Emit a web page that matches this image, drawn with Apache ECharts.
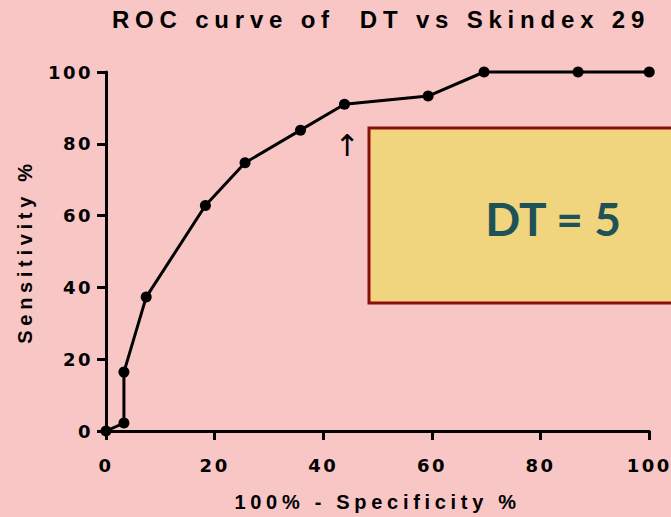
<!DOCTYPE html>
<html><head><meta charset="utf-8">
<script src="https://cdn.jsdelivr.net/npm/echarts@6/dist/echarts.min.js"></script>
<style>
html,body{margin:0;padding:0;background:#F9C6C6;}
#c{width:671px;height:517px;}
#c text[style*="24px"]{letter-spacing:5.8px;}
#c text[style*="20px"]{letter-spacing:4.7px;}
#c text[style*="18px"]{letter-spacing:2.5px;}
</style>
</head><body>
<div id="c"></div>
<script>
var titleText = 'ROC curve of  DT vs Skindex 29';
var xName = '100% - Specificity %';
var yName = 'Sensitivity %';
var specificity = [0, 3.3, 3.3, 7.4, 18.3, 25.6, 35.8, 43.9, 59.3, 69.6, 86.9, 100];
var sensitivity = [0, 2.2, 16.4, 37.3, 62.8, 74.7, 83.8, 91.0, 93.3, 100, 100, 100];
var boxLabel = 'DT = 5';
var arrowLabel = '\u2191';

var chart = echarts.init(document.getElementById('c'), null, {renderer:'svg'});
var pts = specificity.map(function(v,i){return [v, sensitivity[i]];});
var font = '"Liberation Sans", Arial, sans-serif';
var tickFont = '"DejaVu Sans", sans-serif';
chart.setOption({
  backgroundColor:'#F9C6C6',
  animation:false,
  grid:{left:106,right:19,top:72,bottom:84},
  xAxis:{type:'value',min:0,max:100,interval:20,
    name:xName,nameLocation:'middle',nameGap:61,
    nameTextStyle:{fontFamily:font,fontSize:20,fontWeight:'bold',color:'#000'},
    axisLine:{show:true,lineStyle:{color:'#000',width:3}},
    axisTick:{show:true,inside:false,length:9,lineStyle:{color:'#000',width:3}},
    axisLabel:{margin:25,fontFamily:tickFont,fontSize:18,fontWeight:'bold',color:'#000'},
    splitLine:{show:false}},
  yAxis:{type:'value',min:0,max:100,interval:20,
    name:yName,nameLocation:'middle',nameGap:71,
    nameTextStyle:{fontFamily:font,fontSize:20,fontWeight:'bold',color:'#000'},
    axisLine:{show:true,lineStyle:{color:'#000',width:3}},
    axisTick:{show:true,inside:false,length:9,lineStyle:{color:'#000',width:3}},
    axisLabel:{margin:13,fontFamily:tickFont,fontSize:18,fontWeight:'bold',color:'#000'},
    splitLine:{show:false}},
  series:[{type:'line',data:pts,symbol:'circle',symbolSize:11,clip:false,
    lineStyle:{color:'#000',width:3},itemStyle:{color:'#000'},z:5}],
  graphic:[
    {type:'text',x:381,y:19,style:{text:titleText,fill:'#000',
      font:'bold 24px "Liberation Sans", Arial, sans-serif',textAlign:'center',textVerticalAlign:'middle'},z:11},
    {type:'rect',shape:{x:369,y:128,width:320,height:175},
      style:{fill:'#F0D47E',stroke:'#8B0E0E',lineWidth:3},z:10},
    {type:'text',x:553,y:218,style:{text:boxLabel,fill:'#1F5257',
      font:'bold 46px Lato, "Noto Sans", sans-serif',textAlign:'center',textVerticalAlign:'middle'},z:11},
    {type:'text',x:347,y:145,style:{text:arrowLabel,fill:'#000',
      font:'30px "DejaVu Sans", sans-serif',textAlign:'center',textVerticalAlign:'middle'},z:11}
  ]
});
</script>
</body></html>
